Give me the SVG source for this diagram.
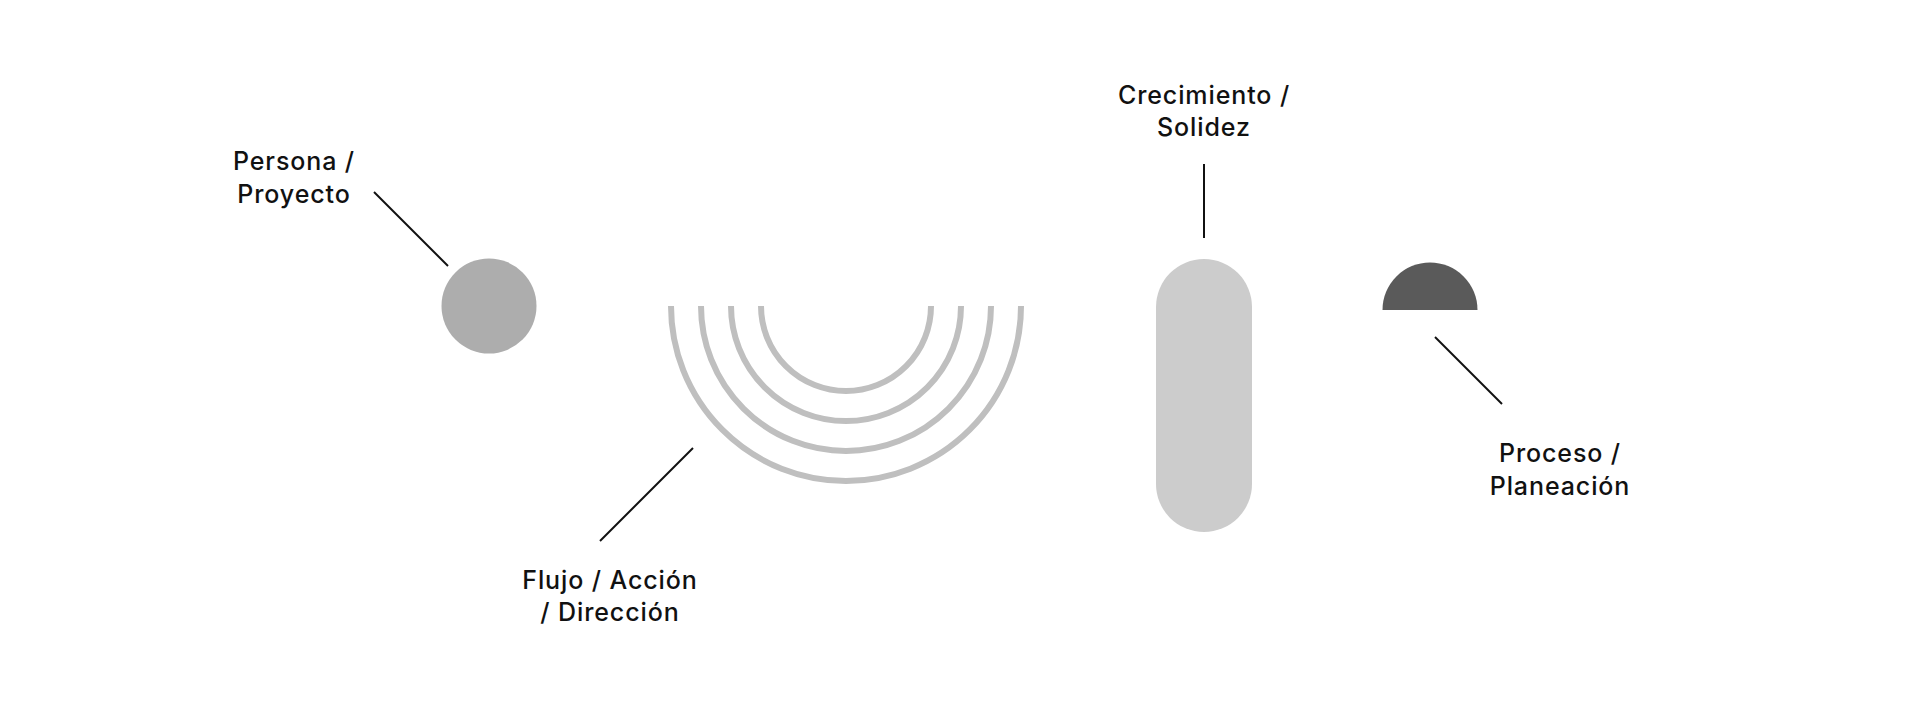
<svg xmlns="http://www.w3.org/2000/svg" width="1920" height="727" viewBox="0 0 1920 727">
  <style>
    .lbl { font-family: Inter, "Liberation Sans", sans-serif; font-size: 25px; font-weight: 500; letter-spacing: 0.9px; fill: #111111; text-anchor: middle; }
    .conn { stroke: #111111; stroke-width: 2; fill: none; }
    .arc { stroke: #bfbfbf; stroke-width: 6; fill: none; }
  </style>
  <rect x="0" y="0" width="1920" height="727" fill="#ffffff"/>
  <g id="connectors">
    <line class="conn" x1="374" y1="192" x2="448" y2="266"/>
    <line class="conn" x1="693" y1="448" x2="600" y2="541"/>
    <line class="conn" x1="1204" y1="164" x2="1204" y2="238"/>
    <line class="conn" x1="1435" y1="337" x2="1502" y2="404"/>
  </g>
  <g id="persona">
    <circle cx="489" cy="306" r="47.5" fill="#adadad"/>
    <text class="lbl" x="294" y="170">Persona /</text>
    <text class="lbl" x="294" y="202.5">Proyecto</text>
  </g>
  <g id="flujo">
    <path class="arc" d="M671 306 A175 175 0 0 0 1021 306"/>
    <path class="arc" d="M701 306 A145 145 0 0 0 991 306"/>
    <path class="arc" d="M731 306 A115 115 0 0 0 961 306"/>
    <path class="arc" d="M761 306 A85 85 0 0 0 931 306"/>
    <text class="lbl" x="610" y="588.5">Flujo / Acción</text>
    <text class="lbl" x="610" y="621">/ Dirección</text>
  </g>
  <g id="crecimiento">
    <rect x="1156" y="259" width="96" height="273" rx="48" ry="48" fill="#cccccc"/>
    <text class="lbl" x="1204" y="103.5">Crecimiento /</text>
    <text class="lbl" x="1204" y="136">Solidez</text>
  </g>
  <g id="proceso">
    <path d="M1382.5 310 A47.5 47.5 0 0 1 1477.5 310 Z" fill="#5a5a5a"/>
    <text class="lbl" x="1560" y="462">Proceso /</text>
    <text class="lbl" x="1560" y="494.5">Planeación</text>
  </g>
</svg>
